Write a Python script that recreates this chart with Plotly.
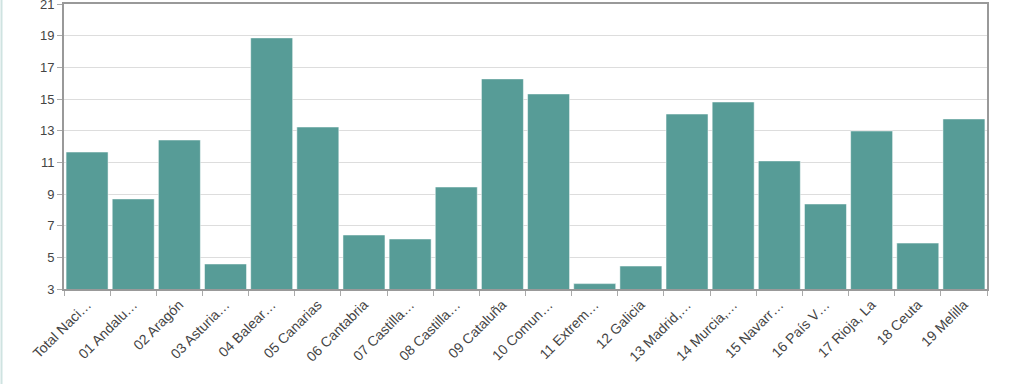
import plotly.graph_objects as go

categories = [
    "Total Nacional", "01 Andalucía", "02 Aragón", "03 Asturias, Principado de",
    "04 Balears, Illes", "05 Canarias", "06 Cantabria", "07 Castilla y León",
    "08 Castilla - La Mancha", "09 Cataluña", "10 Comunitat Valenciana",
    "11 Extremadura", "12 Galicia", "13 Madrid, Comunidad de",
    "14 Murcia, Región de", "15 Navarra, Comunidad Foral de", "16 País Vasco",
    "17 Rioja, La", "18 Ceuta", "19 Melilla",
]
tick_labels = [
    "Total Naci…", "01 Andalu…", "02 Aragón", "03 Asturia…", "04 Balear…",
    "05 Canarias", "06 Cantabria", "07 Castilla…", "08 Castilla…", "09 Cataluña",
    "10 Comun…", "11 Extrem…", "12 Galicia", "13 Madrid,…", "14 Murcia,…",
    "15 Navarr…", "16 País V…", "17 Rioja, La", "18 Ceuta", "19 Melilla",
]
values = [
    11.65, 8.69, 12.41, 4.58, 18.86, 13.23, 6.41, 6.16, 9.44, 16.27,
    15.32, 3.34, 4.45, 14.05, 14.81, 11.09, 8.37, 12.98, 5.90, 13.74,
]
y_ticks = [3, 5, 7, 9, 11, 13, 15, 17, 19, 21]

fig = go.Figure(go.Bar(
    x=categories, y=values,
    marker=dict(color="#579c97", line=dict(color="#ffffff", width=0.5)),
))

fig.update_layout(
    width=1024, height=384,
    margin=dict(l=64, r=37, t=4, b=95),
    paper_bgcolor="white", plot_bgcolor="white",
    bargap=0.09, showlegend=False,
    font=dict(family="Liberation Sans, Arial, sans-serif", size=13, color="#444"),
    shapes=[dict(type="line", xref="paper", yref="paper",
                 x0=-0.0677, x1=-0.0677, y0=-0.35, y1=1.02,
                 line=dict(color="#cfe3e1", width=2))],
)
fig.update_xaxes(
    tickvals=categories, ticktext=tick_labels, tickangle=-45,
    tickson="boundaries", ticks="outside", ticklen=5, tickcolor="#aaa",
    showline=True, linecolor="#999", linewidth=2, mirror=True,
    showgrid=False, automargin=False, tickfont=dict(size=14, color="#444"),
)
fig.update_yaxes(
    range=[3, 21], tickvals=y_ticks, ticks="outside", ticklen=5, tickcolor="#aaa",
    showline=True, linecolor="#999", linewidth=2, mirror=True,
    showgrid=True, gridcolor="#dddddd", gridwidth=1, zeroline=False,
    ticklabeloverflow="allow", automargin=False,
    tickfont=dict(size=13, color="#444"),
)

fig.write_html("out.html")
